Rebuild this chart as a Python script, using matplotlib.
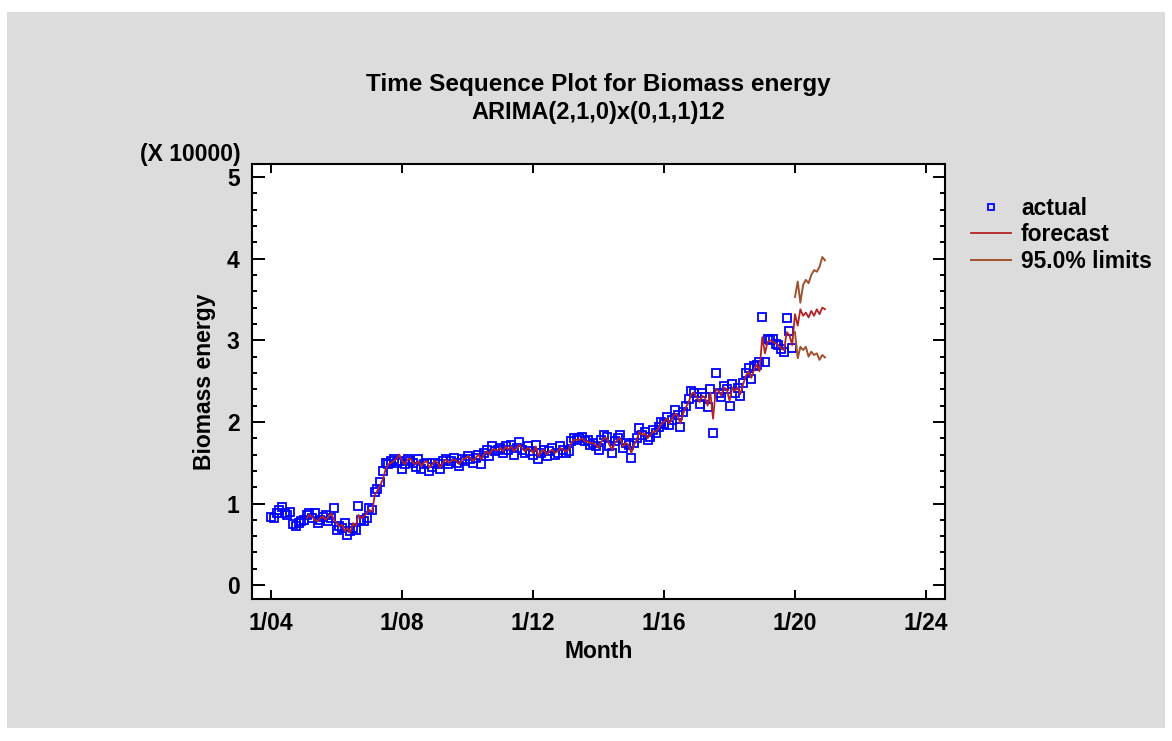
import matplotlib
matplotlib.use("Agg")
import numpy as np
import pandas as pd
import matplotlib.pyplot as plt
from matplotlib.patches import Rectangle
from matplotlib.lines import Line2D
from matplotlib.ticker import MultipleLocator

plt.rcParams['font.family'] = ['Liberation Sans', 'DejaVu Sans']
plt.rcParams['font.weight'] = 'bold'

# actual monthly values (X 10000), Jan 2004 - Dec 2019
actual = [
    0.83, 0.82, 0.88, 0.92, 0.96, 0.88, 0.86, 0.90, 0.75, 0.72, 0.76, 0.78,
    0.80, 0.86, 0.88, 0.82, 0.88, 0.76, 0.80, 0.84, 0.86, 0.78, 0.82, 0.95,
    0.68, 0.72, 0.70, 0.76, 0.62, 0.66, 0.70, 0.68, 0.97, 0.80, 0.78, 0.82,
    0.94, 0.92, 1.14, 1.18, 1.26, 1.40, 1.50, 1.48, 1.52, 1.55, 1.50, 1.52,
    1.42, 1.48, 1.55, 1.52, 1.50, 1.45, 1.55, 1.42, 1.48, 1.50, 1.40, 1.45,
    1.50, 1.48, 1.42, 1.52, 1.55, 1.48, 1.52, 1.56, 1.50, 1.46, 1.54, 1.52,
    1.58, 1.55, 1.50, 1.56, 1.60, 1.48, 1.62, 1.65, 1.58, 1.70, 1.64, 1.66,
    1.68, 1.62, 1.70, 1.66, 1.72, 1.60, 1.68, 1.75, 1.66, 1.62, 1.70, 1.64,
    1.60, 1.72, 1.55, 1.62, 1.66, 1.58, 1.64, 1.68, 1.60, 1.62, 1.70, 1.66,
    1.62, 1.64, 1.76, 1.80, 1.78, 1.80, 1.82, 1.76, 1.78, 1.72, 1.74, 1.70,
    1.66, 1.78, 1.84, 1.82, 1.70, 1.62, 1.76, 1.80, 1.84, 1.68, 1.74, 1.72,
    1.56, 1.74, 1.80, 1.92, 1.84, 1.88, 1.78, 1.82, 1.90, 1.86, 1.94, 2.00,
    1.98, 2.06, 1.96, 2.02, 2.14, 2.08, 1.94, 2.12, 2.20, 2.28, 2.38, 2.36,
    2.30, 2.22, 2.36, 2.30, 2.18, 2.40, 1.87, 2.60, 2.36, 2.30, 2.44, 2.40,
    2.20, 2.46, 2.36, 2.42, 2.32, 2.48, 2.60, 2.66, 2.52, 2.68, 2.70, 2.74,
    3.29, 2.74, 3.02, 3.00, 3.02, 2.96, 2.94, 2.89, 2.86, 3.27, 3.11, 2.90,
]

# one-step fitted values Feb 2005 - Dec 2019, then forecasts Jan - Dec 2020
fitted = [
    0.82, 0.86, 0.84, 0.80, 0.78, 0.82, 0.84, 0.80, 0.84, 0.88, 0.80,
    0.76, 0.72, 0.74, 0.66, 0.70, 0.64, 0.76, 0.72, 0.86, 0.82, 0.84, 0.88,
    0.92, 0.90, 1.10, 1.16, 1.22, 1.30, 1.42, 1.48, 1.50, 1.52, 1.55, 1.60,
    1.52, 1.48, 1.54, 1.55, 1.50, 1.48, 1.52, 1.46, 1.50, 1.52, 1.44, 1.48,
    1.52, 1.50, 1.44, 1.50, 1.54, 1.50, 1.52, 1.54, 1.52, 1.48, 1.54, 1.55,
    1.58, 1.56, 1.52, 1.56, 1.60, 1.54, 1.60, 1.64, 1.60, 1.66, 1.66, 1.65,
    1.68, 1.64, 1.70, 1.66, 1.70, 1.64, 1.68, 1.72, 1.68, 1.64, 1.68, 1.66,
    1.62, 1.70, 1.58, 1.64, 1.66, 1.60, 1.64, 1.66, 1.62, 1.64, 1.68, 1.66,
    1.64, 1.66, 1.74, 1.78, 1.78, 1.78, 1.80, 1.76, 1.76, 1.74, 1.74, 1.72,
    1.68, 1.76, 1.80, 1.80, 1.72, 1.66, 1.74, 1.78, 1.80, 1.70, 1.74, 1.72,
    1.62, 1.72, 1.78, 1.88, 1.84, 1.86, 1.80, 1.84, 1.88, 1.88, 1.92, 1.98,
    2.00, 2.04, 1.98, 2.04, 2.10, 2.08, 1.98, 2.10, 2.18, 2.24, 2.34, 2.36,
    2.30, 2.24, 2.32, 2.30, 2.20, 2.36, 2.04, 2.40, 2.38, 2.32, 2.42, 2.40,
    2.26, 2.42, 2.38, 2.42, 2.34, 2.46, 2.56, 2.62, 2.54, 2.64, 2.70, 2.62,
    3.04, 2.84, 2.98, 3.00, 2.98, 2.96, 2.94, 2.90, 2.88, 3.10, 3.06, 2.94,
    3.32, 3.18, 3.38, 3.30, 3.34, 3.28, 3.36, 3.30, 3.38, 3.32, 3.40, 3.38,
]

upper = [3.53, 3.72, 3.46, 3.68, 3.74, 3.70, 3.80, 3.86, 3.84, 3.90, 4.02, 3.98]
lower = [3.10, 2.78, 2.92, 2.88, 2.92, 2.80, 2.86, 2.82, 2.84, 2.76, 2.82, 2.79]

months = pd.date_range("2004-01-01", periods=len(actual), freq="MS")
fit_months = pd.date_range("2005-02-01", periods=len(fitted), freq="MS")
fc_months = pd.date_range("2020-01-01", periods=len(upper), freq="MS")

tick_years = [2004, 2008, 2012, 2016, 2020, 2024]
tick_labels = ["1/04", "1/08", "1/12", "1/16", "1/20", "1/24"]

FS = 16.5
W, H = 1172, 741
fig = plt.figure(figsize=(W / 100, H / 100), dpi=100)
fig.patch.set_facecolor("white")
fig.patches.append(Rectangle((7 / W, 1 - 728 / H), 1158 / W, 716 / H,
                             transform=fig.transFigure, facecolor="#dcdcdc",
                             edgecolor="none", zorder=-5))

ax = fig.add_axes([252 / W, 1 - 599 / H, 693 / W, 435 / H])
ax.set_facecolor("white")

ax.plot(months, actual, linestyle="none", marker="s", markersize=5.6,
        markerfacecolor="none", markeredgecolor="#0000ff", markeredgewidth=1.3,
        zorder=2)
ax.plot(fit_months, fitted, color="#b22222", linewidth=1.3, zorder=3)
ax.plot(fc_months, upper, color="#a0522d", linewidth=1.4, zorder=3)
ax.plot(fc_months, lower, color="#a0522d", linewidth=1.4, zorder=3)

ax.set_xlim(pd.Timestamp("2003-06-01"), pd.Timestamp("2024-08-01"))
ax.set_ylim(-0.17, 5.16)
ax.set_xticks([pd.Timestamp(f"{y}-01-01") for y in tick_years])
ax.set_xticklabels(tick_labels)
ax.yaxis.set_major_locator(MultipleLocator(1))
ax.yaxis.set_minor_locator(MultipleLocator(0.2))

for s in ax.spines.values():
    s.set_linewidth(1.5)
ax.tick_params(axis="x", which="major", direction="in", length=6.5, width=1.4,
               top=True, labelsize=FS, pad=9)
ax.tick_params(axis="y", which="major", direction="in", length=9, width=1.4,
               right=True, labelsize=FS, pad=9)
ax.tick_params(axis="y", which="minor", direction="in", length=3.6, width=1.4,
               right=True)
for lab in ax.get_xticklabels() + ax.get_yticklabels():
    lab.set_fontweight("bold")

ax.set_xlabel("Month", fontsize=FS, fontweight="bold", labelpad=4)
ax.set_ylabel("Biomass energy", fontsize=FS, fontweight="bold", labelpad=8)

fig.text(598 / W, 1 - 84 / H, "Time Sequence Plot for Biomass energy",
         ha="center", va="center", fontsize=17.5, fontweight="bold")
fig.text(598 / W, 1 - 113 / H, "ARIMA(2,1,0)x(0,1,1)12",
         ha="center", va="center", fontsize=17, fontweight="bold")
fig.text(241 / W, 1 - 155 / H, "(X 10000)", ha="right", va="center",
         fontsize=FS, fontweight="bold")

handles = [
    Line2D([], [], linestyle="none", marker="s", markersize=5,
           markerfacecolor="none", markeredgecolor="#0000ff", markeredgewidth=1.3),
    Line2D([], [], color="#b22222", linewidth=1.3),
    Line2D([], [], color="#a0522d", linewidth=1.4),
]
fig.legend(handles, ["actual", "forecast", "95.0% limits"],
           loc="upper left", bbox_to_anchor=(966 / W, 1 - 192 / H),
           frameon=False, prop={"weight": "bold", "size": FS},
           handlelength=1.75, handletextpad=0.45, labelspacing=0.16,
           borderaxespad=0, borderpad=0.2)

fig.savefig("out.png", dpi=100)
